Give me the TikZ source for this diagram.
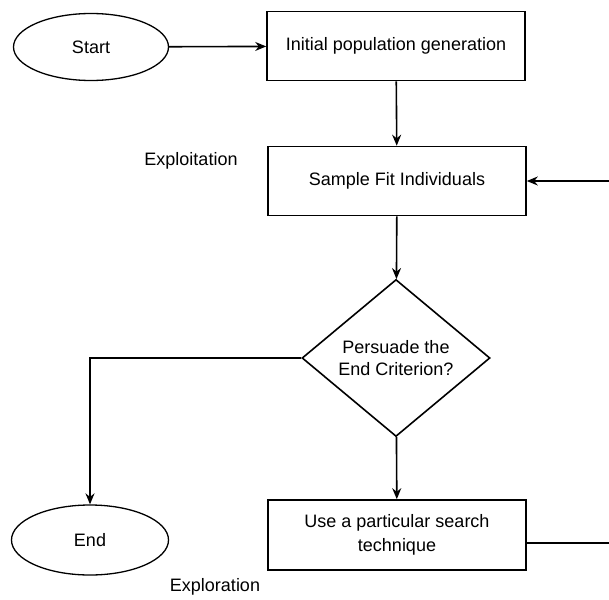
\documentclass[tikz,border=0pt]{standalone}
\usepackage{fontspec}
\setmainfont{Liberation Sans}
\usepackage{tikz}
\usetikzlibrary{positioning,shapes.geometric,arrows.meta}

\begin{document}
\begin{tikzpicture}[
      x=1pt, y=-1pt,
      >={Stealth[length=11pt,width=9pt]},
      flow/.style={->, line width=1.6pt},
      svc/.style={rectangle, draw, line width=1.6pt, minimum width=258, minimum height=69, align=center, font=\fontsize{18}{24}\selectfont},
      term/.style={ellipse, draw, line width=1.3pt, minimum width=155, minimum height=67, font=\fontsize{18}{21}\selectfont},
      dec/.style={diamond, draw, line width=1.6pt, inner sep=0pt, minimum width=188, minimum height=157, align=center, font=\fontsize{18}{22}\selectfont},
      lbl/.style={font=\fontsize{18}{21}\selectfont}
    ]
      \useasboundingbox (0,0) rectangle (609,599);
      \node[term] (start) at (91, 47) {Start};
      \node[svc] (init) at (396, 46) {Initial population generation};
      \node[svc] (sample) at (397, 181) {Sample Fit Individuals};
      \node[dec] (crit) at (396, 358) {Persuade the\\End Criterion?};
      \node[svc, minimum height=70] (search) at (397, 535) {Use a particular search\\technique};
      \node[term, minimum width=157, minimum height=70] (stop) at (90, 540) {End};
      \node[lbl] (explt) at (191, 161) {Exploitation};
      \node[lbl] (explr) at (215, 587) {Exploration};
      \coordinate (loop) at (640, 543);
      \draw[flow] (start) -- (init);
      \draw[flow] (init) -- (sample);
      \draw[flow] (sample) -- (crit);
      \draw[flow] (crit) -- (search);
      \draw[flow] (crit.west) -| (stop.north);
      \draw[flow] ([yshift=-8]search.east) -- (loop) |- (sample.east);
    \end{tikzpicture}
\end{document}
